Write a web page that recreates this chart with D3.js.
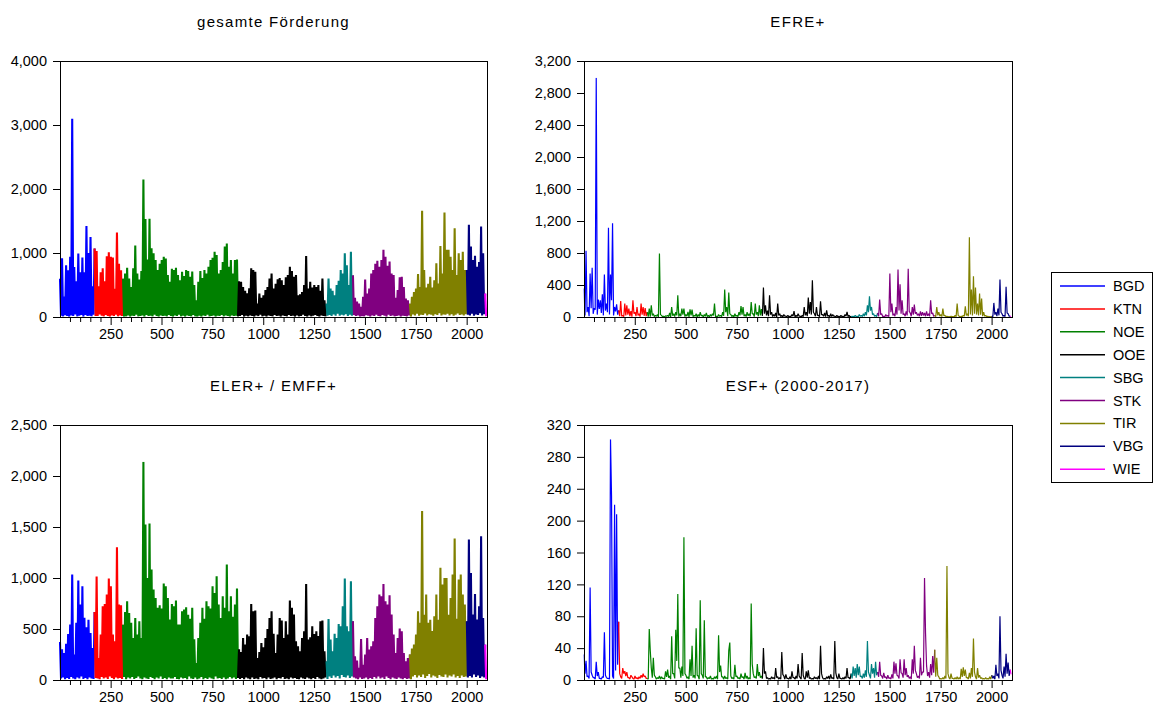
<!DOCTYPE html>
<html>
<head>
<meta charset="utf-8">
<script src="https://cdn.jsdelivr.net/npm/d3@7"></script>
<style>
  body { margin: 0; background: #fff; }
  svg text { font-family: "Liberation Sans", Arial, sans-serif; fill: #000; }
</style>
</head>
<body>
<svg id="chart" width="1154" height="704"></svg>
<script>
// Regions (Bundeslaender), municipalities sorted by region along the x axis.
const regions = ["BGD", "KTN", "NOE", "OOE", "SBG", "STK", "TIR", "VBG", "WIE"];
const regionColors = ["#0000ff", "#ff0000", "#008000", "#000000", "#008080", "#800080", "#808000", "#000080", "#ff00ff"];
const regionStart = [1, 176, 316, 880, 1316, 1443, 1726, 2005, 2094];

// Values read off the picture in bins of 10 observations:
// the local high at obs 1+10k and the local low at obs 6+10k.
const firstObs = 1, binStep = 10, lowOffset = 5, lastObs = 2100;

const totalPeak = [
  600, 916, 320, 810, 730, 940, 3100, 780, 560, 990, 700, 930, 700, 1420, 1000, 1250, 480, 1070,
  1030, 480, 700, 760, 560, 950, 1010, 940, 930, 440, 1320, 830, 730, 600,
  680, 770, 600, 470, 760, 1115, 680, 585, 720, 2150, 1530, 900, 1535, 1075, 995, 890, 733, 830, 890, 940,
  915, 655, 550, 754, 733, 770, 655, 575, 707, 640, 733, 717, 630, 712, 500, 260, 550, 720, 610, 733,
  680, 785, 890, 927, 1020, 970, 680, 733, 860, 1100, 1150, 785, 890, 680, 890, 900,
  560, 550, 470, 410, 370, 450, 760, 733, 707, 210, 366, 300, 340, 420, 470, 600, 680, 445, 520, 590,
  610, 575, 500, 620, 655, 785, 720, 630, 655, 340, 355, 390, 500, 953, 445, 550, 460, 500, 470, 500,
  410, 600, 260, 210,
  600, 445, 410, 340, 500, 565, 733, 680, 995, 810, 500, 1020, 650,
  300, 240, 210, 160, 314, 585, 366, 445, 680, 733, 830, 880, 785, 890, 1050, 940, 800, 865, 680, 655,
  300, 420, 620, 628, 470, 290, 260, 210,
  314, 390, 445, 670, 470, 1660, 733, 460, 520, 630, 460, 575, 838, 524, 1110, 680, 1633, 1050, 1050, 940,
  733, 1387, 655, 995, 890, 1020, 733, 733,
  1440, 1100, 890, 955, 785, 860, 1414, 995, 366
];
const totalLow = [
  20, 10, 30, 15, 5, 25, 15, 40, 10, 20, 30, 5, 30, 15, 20, 10, 35, 15,
  15, 40, 20, 10, 30, 15, 5, 25, 15, 35, 10, 25, 15, 5,
  10, 25, 5, 20, 15, 35, 10, 15, 25, 5, 30, 15, 20, 10, 35, 15, 5, 25, 15, 20,
  10, 30, 15, 5, 25, 15, 35, 10, 20, 5, 25, 15, 10, 30, 10, 5, 20, 5, 25, 15,
  35, 10, 15, 25, 5, 20, 15, 30, 10, 25, 15, 5, 25, 15, 20, 10,
  15, 30, 5, 20, 10, 25, 15, 5, 25, 15, 35, 10, 20, 5, 25, 15, 10, 30, 15, 20,
  5, 25, 15, 10, 30, 15, 20, 5, 25, 10, 15, 35, 15, 5, 25, 10, 20, 30, 15, 5,
  25, 15, 10, 20,
  30, 15, 40, 20, 50, 20, 35, 25, 45, 15, 35, 20, 30,
  15, 25, 5, 15, 10, 30, 20, 5, 25, 15, 35, 15, 10, 30, 20, 5, 35, 15, 25, 10,
  15, 25, 5, 20, 15, 10, 25, 5,
  40, 25, 50, 20, 35, 30, 55, 25, 45, 35, 20, 45, 30, 60, 25, 40, 35, 50, 25, 45,
  20, 35, 55, 30, 40, 25, 45, 35,
  25, 50, 20, 40, 30, 60, 25, 45, 10
];

const efrePeak = [
  356, 828, 125, 544, 615, 110, 2992, 218, 209, 285, 531, 167, 1117, 531, 1171, 125, 159, 84,
  200, 20, 167, 146, 105, 75, 209, 60, 125, 40, 167, 125, 110, 60,
  105, 146, 40, 20, 30, 795, 20, 10, 15, 20, 50, 125, 40, 60, 272, 40, 105, 105, 30, 63,
  96, 92, 20, 40, 30, 60, 20, 30, 50, 20, 30, 40, 167, 10, 30, 20, 60, 343, 125, 305,
  30, 20, 40, 20, 60, 138, 125, 30, 60, 40, 188, 40, 167, 60, 146, 100,
  368, 146, 80, 272, 60, 30, 50, 167, 40, 20, 30, 10, 20, 10, 30, 75, 20, 40, 10, 20,
  125, 60, 243, 188, 460, 40, 125, 20, 197, 30, 50, 84, 20, 40, 30, 10, 20, 10, 20, 10,
  30, 63, 20, 10,
  10, 20, 10, 30, 20, 40, 60, 146, 260, 125, 40, 20, 50,
  218, 40, 10, 30, 20, 544, 167, 40, 125, 594, 410, 209, 40, 70, 602, 50, 125, 155, 60, 40,
  70, 60, 50, 70, 40, 209, 50, 20,
  125, 60, 30, 105, 20, 10, 5, 10, 5, 20, 167, 10, 10, 20, 134, 40, 996, 343, 510, 368,
  167, 293, 230, 60, 20, 10, 5, 10,
  176, 60, 105, 468, 40, 20, 377, 40, 10
];
const efreLow = [
  20, 60, 10, 110, 40, 90, 30, 100, 50, 20, 80, 60, 30, 210, 20, 70, 30, 10,
  10, 5, 20, 30, 10, 5, 40, 10, 20, 5, 30, 15, 10, 5,
  5, 20, 5, 10, 0, 30, 5, 0, 10, 5, 0, 15, 5, 20, 5, 10, 30, 5, 10, 0,
  20, 5, 10, 0, 5, 15, 0, 10, 5, 0, 10, 20, 5, 0, 10, 5, 15, 60, 10, 40,
  5, 0, 10, 5, 20, 30, 10, 5, 15, 10, 40, 5, 30, 10, 20, 15,
  40, 20, 10, 30, 5, 10, 0, 20, 5, 0, 10, 5, 0, 5, 10, 0, 5, 10, 0, 5,
  20, 10, 40, 30, 60, 10, 20, 5, 30, 10, 5, 10, 0, 5, 10, 0, 5, 0, 5, 0,
  10, 5, 0, 5,
  0, 5, 0, 10, 5, 10, 20, 60, 80, 30, 10, 5, 10,
  30, 5, 0, 10, 5, 60, 20, 10, 30, 80, 40, 30, 10, 20, 70, 10, 30, 40, 20, 10,
  15, 20, 10, 15, 10, 40, 10, 5,
  20, 10, 5, 15, 5, 0, 0, 5, 0, 5, 20, 0, 5, 10, 20, 10, 30, 20, 40, 30,
  20, 30, 10, 10, 5, 0, 0, 5,
  30, 10, 20, 60, 10, 5, 50, 10, 5
];

const elerPeak = [
  373, 300, 265, 356, 450, 543, 1034, 250, 560, 975, 740, 920, 610, 517, 590, 460, 314, 667,
  1014, 216, 445, 723, 746, 838, 995, 920, 445, 380, 1302, 740, 733, 543,
  667, 772, 657, 560, 412, 608, 445, 576, 412, 2140, 1525, 1000, 1535, 1083, 887, 805, 707, 733, 700, 945,
  920, 805, 592, 746, 723, 779, 543, 543, 674, 690, 713, 640, 600, 707, 400, 167, 412, 560, 707, 600,
  772, 723, 700, 920, 854, 1018, 740, 608, 821, 707, 1132, 674, 821, 620, 740, 897,
  300, 275, 412, 347, 445, 428, 746, 674, 680, 216, 275, 363, 320, 412, 500, 608, 674, 452, 265, 445,
  608, 582, 412, 576, 445, 779, 707, 641, 380, 330, 281, 412, 478, 942, 396, 420, 527, 450, 478, 430,
  576, 582, 281, 183,
  599, 396, 281, 452, 412, 550, 527, 723, 995, 527, 478, 968, 576,
  232, 190, 118, 402, 150, 250, 412, 298, 330, 380, 608, 723, 838, 821, 942, 772, 740, 831, 641, 445,
  265, 412, 504, 478, 265, 183, 216, 250,
  308, 347, 445, 674, 560, 1656, 640, 838, 560, 590, 480, 625, 838, 590, 1100, 936, 1001, 1001, 640, 805,
  1034, 1387, 600, 985, 1034, 838, 740, 576,
  1377, 1050, 641, 844, 592, 723, 1410, 608, 347
];
const elerLow = [
  15, 25, 5, 20, 10, 30, 15, 5, 25, 15, 35, 10, 20, 5, 25, 15, 10, 20,
  15, 5, 30, 15, 25, 10, 35, 20, 5, 25, 15, 20, 10, 30,
  5, 25, 15, 30, 10, 20, 35, 15, 5, 25, 15, 10, 30, 20, 5, 25, 15, 35, 10, 20,
  5, 25, 15, 15, 30, 10, 5, 25, 15, 20, 5, 35, 15, 10, 25, 5, 15, 30, 5, 20,
  10, 25, 15, 5, 35, 15, 20, 10, 25, 5, 15, 30, 15, 25, 10, 20,
  10, 20, 5, 25, 15, 5, 25, 10, 15, 5, 30, 15, 20, 5, 25, 10, 15, 25, 5, 20,
  15, 30, 10, 15, 5, 25, 15, 20, 10, 5, 25, 15, 10, 25, 15, 5, 20, 10, 30, 15,
  5, 15, 25, 10,
  35, 20, 45, 25, 40, 15, 50, 30, 25, 45, 20, 35, 25,
  15, 5, 25, 10, 15, 25, 5, 20, 10, 30, 15, 35, 15, 25, 10, 35, 20, 5, 25, 15,
  10, 25, 15, 5, 20, 10, 15, 5,
  35, 50, 25, 45, 30, 55, 20, 40, 60, 25, 45, 35, 20, 50, 35, 30, 55, 25, 45, 35,
  55, 25, 40, 20, 45, 30, 35, 25,
  40, 25, 55, 30, 45, 20, 35, 25, 5
];

const esfPeak = [
  32, 24, 5, 116, 6, 3, 23, 10, 2, 4, 60, 3, 2, 302, 5, 220, 208, 73,
  4, 15, 11, 10, 3, 6, 2, 5, 3, 4, 6, 8, 5, 2,
  64, 15, 28, 4, 3, 5, 4, 2, 11, 13, 5, 55, 8, 63, 108, 15, 17, 179, 6, 4,
  26, 43, 6, 65, 5, 100, 6, 75, 4, 3, 5, 2, 4, 5, 56, 18, 4, 5, 3, 37,
  5, 3, 19, 5, 3, 8, 4, 9, 5, 3, 96, 8, 4, 20, 10, 5,
  40, 11, 3, 2, 4, 3, 15, 4, 3, 35, 5, 7, 2, 4, 11, 3, 5, 20, 3, 34,
  2, 11, 12, 3, 2, 4, 3, 5, 43, 3, 2, 4, 5, 7, 3, 49, 3, 8, 2, 3,
  4, 15, 3, 8,
  17, 15, 20, 17, 5, 8, 12, 49, 6, 20, 15, 23, 10,
  23, 5, 9, 4, 6, 3, 7, 23, 21, 5, 26, 8, 26, 15, 6, 4, 26, 43, 8, 5,
  28, 10, 128, 18, 10, 20, 30, 38,
  28, 4, 2, 3, 5, 143, 3, 8, 2, 3, 4, 3, 14, 16, 13, 3, 9, 15, 52, 4,
  15, 6, 3, 2, 3, 2, 4, 6,
  5, 19, 8, 80, 6, 17, 33, 22, 13
];
const esfLow = [
  8, 4, 2, 10, 3, 1, 5, 2, 1, 3, 6, 2, 1, 231, 2, 12, 19, 8,
  2, 8, 5, 3, 1, 4, 1, 2, 1, 2, 3, 4, 2, 1,
  37, 3, 6, 1, 2, 1, 2, 1, 4, 3, 1, 8, 2, 24, 15, 3, 5, 8, 2, 1,
  5, 3, 2, 6, 1, 8, 2, 4, 1, 2, 1, 1, 2, 1, 10, 4, 1, 2, 1, 47,
  2, 1, 4, 2, 1, 3, 1, 2, 1, 1, 20, 3, 2, 5, 3, 2,
  8, 2, 1, 1, 2, 1, 3, 1, 1, 7, 1, 2, 1, 1, 3, 1, 2, 5, 1, 6,
  1, 3, 2, 1, 1, 2, 1, 1, 8, 1, 1, 2, 1, 2, 1, 9, 1, 2, 1, 1,
  2, 3, 1, 2,
  5, 3, 6, 4, 2, 3, 4, 10, 2, 8, 3, 6, 4,
  6, 2, 3, 1, 2, 1, 2, 8, 6, 2, 9, 3, 6, 4, 2, 1, 8, 12, 3, 2,
  6, 10, 59, 5, 3, 6, 9, 4,
  6, 1, 1, 1, 2, 8, 1, 2, 1, 1, 1, 1, 4, 5, 3, 1, 2, 4, 10, 1,
  3, 2, 1, 1, 1, 1, 1, 2,
  1, 5, 2, 12, 2, 4, 8, 5, 7
];

const panelTitles = ["gesamte Förderung", "EFRE+", "ELER+ / EMFF+", "ESF+ (2000-2017)"];
const panelPeaks = [totalPeak, efrePeak, elerPeak, esfPeak];
const panelLows = [totalLow, efreLow, elerLow, esfLow];
const yMax = [4000, 3200, 2500, 320];
const yStep = [1000, 400, 500, 40];
const xMajorTicks = [250, 500, 750, 1000, 1250, 1500, 1750, 2000];

// layout; dense panels get a wider stroke since 5 obs share one pixel column
const boxes = [
  { left: 60, right: 487, top: 61, bottom: 317, stroke: 2.1 },
  { left: 584, right: 1012, top: 61, bottom: 317, stroke: 1.2 },
  { left: 60, right: 487, top: 425, bottom: 680, stroke: 2.1 },
  { left: 584, right: 1012, top: 425, bottom: 680, stroke: 1.2 }
];

const svg = d3.select("#chart");
const fmt = d3.format(",");

function regionOf(x) {
  return Math.max(0, d3.bisectRight(regionStart, x) - 1);
}

function buildSegments(peak, low) {
  const pts = [];
  peak.forEach((v, k) => {
    const x = firstObs + k * binStep;
    pts.push({ x, v });
    if (low[k] != null) pts.push({ x: x + lowOffset, v: low[k] });
  });
  const segs = [];
  let cur = null;
  pts.forEach((p, i) => {
    const r = regionOf(p.x);
    if (!cur || cur.r !== r) {
      cur = { r, pts: i ? [pts[i - 1]] : [] };
      segs.push(cur);
    }
    cur.pts.push(p);
  });
  return segs;
}

panelTitles.forEach((title, i) => {
  const b = boxes[i];
  const g = svg.append("g");
  const x = d3.scaleLinear().domain([firstObs, lastObs]).range([b.left, b.right]);
  const y = d3.scaleLinear().domain([0, yMax[i]]).range([b.bottom, b.top]);

  g.append("text")
    .attr("x", (b.left + b.right) / 2)
    .attr("y", b.top - 34)
    .attr("text-anchor", "middle")
    .style("font-size", "15px")
    .style("letter-spacing", "1.3px")
    .text(title);

  // series
  const line = d3.line().x(d => x(d.x)).y(d => y(d.v));
  const segs = buildSegments(panelPeaks[i], panelLows[i]);
  g.append("g")
    .attr("clip-path", `inset(0)`)
    .selectAll("path").data(segs).join("path")
    .attr("fill", "none")
    .attr("stroke", d => regionColors[d.r])
    .attr("stroke-width", b.stroke)
    .attr("stroke-linejoin", "bevel")
    .attr("d", d => line(d.pts));

  // y axis
  const yAxis = d3.axisLeft(y)
    .tickValues(d3.range(0, yMax[i] + 1, yStep[i]))
    .tickFormat(fmt)
    .tickSize(7)
    .tickPadding(6);
  g.append("g")
    .attr("transform", `translate(${b.left},0)`)
    .call(yAxis)
    .call(a => a.select(".domain").remove())
    .call(a => a.selectAll("text").style("font-size", "14.5px").style("font-family", "Liberation Sans, Arial, sans-serif"));

  // x axis: minor ticks every 50, labelled ticks every 250
  const minor = d3.range(50, lastObs, 50).filter(v => !xMajorTicks.includes(v));
  g.append("g")
    .attr("transform", `translate(0,${b.bottom + 1})`)
    .call(d3.axisBottom(x).tickValues(minor).tickSize(4).tickFormat(""))
    .call(a => a.select(".domain").remove());
  g.append("g")
    .attr("transform", `translate(0,${b.bottom + 1})`)
    .call(d3.axisBottom(x).tickValues(xMajorTicks).tickSize(7).tickPadding(4).tickFormat(d3.format("d")))
    .call(a => a.select(".domain").remove())
    .call(a => a.selectAll("text").style("font-size", "14.5px").style("font-family", "Liberation Sans, Arial, sans-serif"));

  // frame
  g.append("rect")
    .attr("x", b.left + 0.5)
    .attr("y", b.top + 0.5)
    .attr("width", b.right - b.left)
    .attr("height", b.bottom - b.top)
    .attr("fill", "none")
    .attr("stroke", "#000")
    .attr("stroke-width", 1);
});

// legend
const leg = svg.append("g");
leg.append("rect")
  .attr("x", 1051.5).attr("y", 272.5)
  .attr("width", 101).attr("height", 210)
  .attr("fill", "#fff").attr("stroke", "#000");
regions.forEach((name, j) => {
  const cy = 286 + j * 22.9;
  leg.append("line")
    .attr("x1", 1060).attr("x2", 1105)
    .attr("y1", cy).attr("y2", cy)
    .attr("stroke", regionColors[j]).attr("stroke-width", 1.5);
  leg.append("text")
    .attr("x", 1113).attr("y", cy + 5)
    .style("font-size", "14.5px")
    .text(name);
});
</script>
</body>
</html>
